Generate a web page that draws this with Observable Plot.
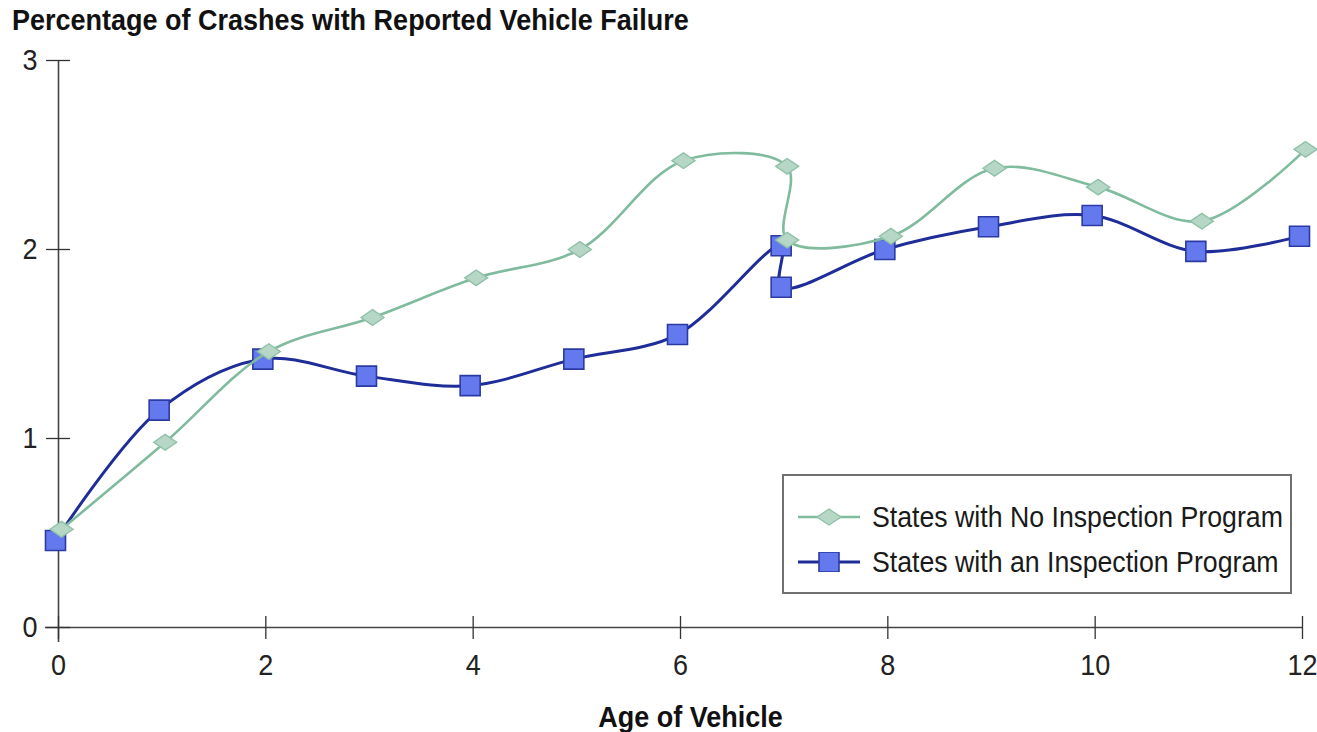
<!DOCTYPE html>
<html>
<head>
<meta charset="utf-8">
<script src="https://cdn.jsdelivr.net/npm/d3@7"></script>
<script src="https://cdn.jsdelivr.net/npm/@observablehq/plot@0.6"></script>
<style>
  html, body { margin: 0; padding: 0; background: #fff; }
  #wrap { position: relative; width: 1317px; height: 732px; overflow: hidden; font-family: "Liberation Sans", Arial, sans-serif; }
  #title { height: 40px; padding-left: 12px; font-weight: bold; font-size: 27px; line-height: 40px; color: #111; }
  #title span { display: inline-block; transform: scaleY(1.1); transform-origin: 0 50%; position: relative; top: 0px; }
  #legend { position: absolute; left: 782px; top: 474px; width: 506px; height: 116px; border: 2px solid #707070; background: #fff; }
  .item { position: absolute; left: 0; height: 30px; display: flex; align-items: center; font-size: 26.7px; color: #1a1a1a; white-space: nowrap; }
  .item span { display: inline-block; transform: scaleY(1.1); }
  .item svg { margin-left: 14px; margin-right: 12px; }
</style>
</head>
<body>
<div id="wrap">
  <div id="title"><span>Percentage of Crashes with Reported Vehicle Failure</span></div>
  <div id="chart"></div>
  <div id="legend"></div>
</div>
<script>
// ---- data ----
const ages = [0, 1, 2, 3, 4, 5, 6, 7, 7, 8, 9, 10, 11, 12];
const noInspection = [0.52, 0.98, 1.46, 1.64, 1.85, 2.00, 2.47, 2.44, 2.05, 2.07, 2.43, 2.33, 2.15, 2.53];
const withInspection = [0.46, 1.15, 1.42, 1.33, 1.28, 1.42, 1.55, 2.02, 1.80, 2.00, 2.12, 2.18, 1.99, 2.07];
const seriesNames = ["States with No Inspection Program", "States with an Inspection Program"];
const xTicks = [0, 2, 4, 6, 8, 10, 12];
const yTicks = [0, 1, 2, 3];
const xTitle = "Age of Vehicle";

// ---- styles ----
const green = { line: "#80bb9e", fill: "#b7d7c6", stroke: "#8fc1a8" };
const blue = { line: "#1f2d98", fill: "#6479ee", stroke: "#2c3ba3" };

const diamond = {
  draw(ctx, size) {
    const s = Math.sqrt(size / Math.PI);
    ctx.moveTo(-s, 0); ctx.lineTo(0, -0.68 * s); ctx.lineTo(s, 0); ctx.lineTo(0, 0.68 * s); ctx.closePath();
  }
};
const square = {
  draw(ctx, size) {
    const s = Math.sqrt(size / Math.PI);
    ctx.rect(-s, -s, 2 * s, 2 * s);
  }
};

const noRows = ages.map((a, i) => ({ age: a, pct: noInspection[i], series: seriesNames[0] }));
const withRows = ages.map((a, i) => ({ age: a, pct: withInspection[i], series: seriesNames[1] }));

const W = 1317, H = 692, mT = 20, mB = 105, mL = 58, mR = 15;
const plotH = H - mT - mB, plotW = W - mL - mR;

const chart = Plot.plot({
  width: W, height: H,
  marginTop: mT, marginBottom: mB, marginLeft: mL, marginRight: mR,
  style: { fontFamily: "'Liberation Sans', Arial, sans-serif", fontSize: "27px", color: "#222", background: "#fff", overflow: "visible" },
  x: { domain: [0, 12] },
  y: { domain: [0, 3] },
  marks: [
    // axis lines
    Plot.ruleY([0], { stroke: "#444", strokeWidth: 1.6, insetLeft: -13 }),
    Plot.ruleX([0], { stroke: "#444", strokeWidth: 1.6, insetBottom: -15 }),
    // crossing ticks
    Plot.tickX(xTicks, { x: d => d, stroke: "#333", strokeWidth: 1.3, insetTop: plotH - 11, insetBottom: -12 }),
    Plot.tickY(yTicks, { y: d => d, stroke: "#333", strokeWidth: 1.3, insetLeft: -12, insetRight: plotW - 12 }),
    Plot.axisX({ ticks: xTicks, tickFormat: d => String(d), tickSize: 0, tickPadding: 26, label: null, fill: "#222", fontSize: 27 }),
    Plot.axisY({ ticks: yTicks, tickFormat: d => String(d), tickSize: 0, tickPadding: 21, label: null, fill: "#222", fontSize: 27 }),
    Plot.text([xTitle], { frameAnchor: "bottom", dy: 99, dx: 10, fontWeight: "bold", fontSize: 27, fill: "#111" }),
    // inspection series (blue)
    Plot.line(withRows, { x: "age", y: "pct", curve: "catmull-rom", stroke: blue.line, strokeWidth: 3, dx: -3 }),
    Plot.dot(withRows, { x: "age", y: "pct", symbol: square, r: 10, fill: blue.fill, stroke: blue.stroke, strokeWidth: 1.6, dx: -3 }),
    // no inspection series (green)
    Plot.line(noRows, { x: "age", y: "pct", curve: "catmull-rom", stroke: green.line, strokeWidth: 2.6, dx: 3 }),
    Plot.dot(noRows, { x: "age", y: "pct", symbol: diamond, r: 11.5, fill: green.fill, stroke: green.stroke, strokeWidth: 1.4, dx: 3 })
  ]
});
// slight vertical stretch of text glyphs, as in the reference
d3.select(chart).selectAll("g[aria-label$='tick label'] text, g[aria-label='text'] text").each(function () {
  const t = this.getAttribute("transform") || "";
  this.setAttribute("transform", t + " scale(1,1.1)");
});
document.getElementById("chart").appendChild(chart);

// ---- legend ----
const legend = document.getElementById("legend");
const legendItems = [
  { name: seriesNames[0], c: green, sym: "diamond", top: 26 },
  { name: seriesNames[1], c: blue, sym: "square", top: 71 }
];
legendItems.forEach(it => {
  const div = document.createElement("div");
  div.className = "item";
  div.style.top = it.top + "px";
  const shape = it.sym === "diamond"
    ? `<path d="M19,10 L31,2 L43,10 L31,18 Z" fill="${it.c.fill}" stroke="${it.c.stroke}" stroke-width="1.4"/>`
    : `<rect x="21" y="0" width="20" height="20" fill="${it.c.fill}" stroke="${it.c.stroke}" stroke-width="1.6"/>`;
  div.innerHTML = `<svg width="62" height="20" viewBox="0 0 62 20"><line x1="0" y1="10" x2="62" y2="10" stroke="${it.c.line}" stroke-width="${it.sym === 'diamond' ? 2.6 : 3}"/>${shape}</svg><span>${it.name}</span>`;
  legend.appendChild(div);
});
</script>
</body>
</html>
